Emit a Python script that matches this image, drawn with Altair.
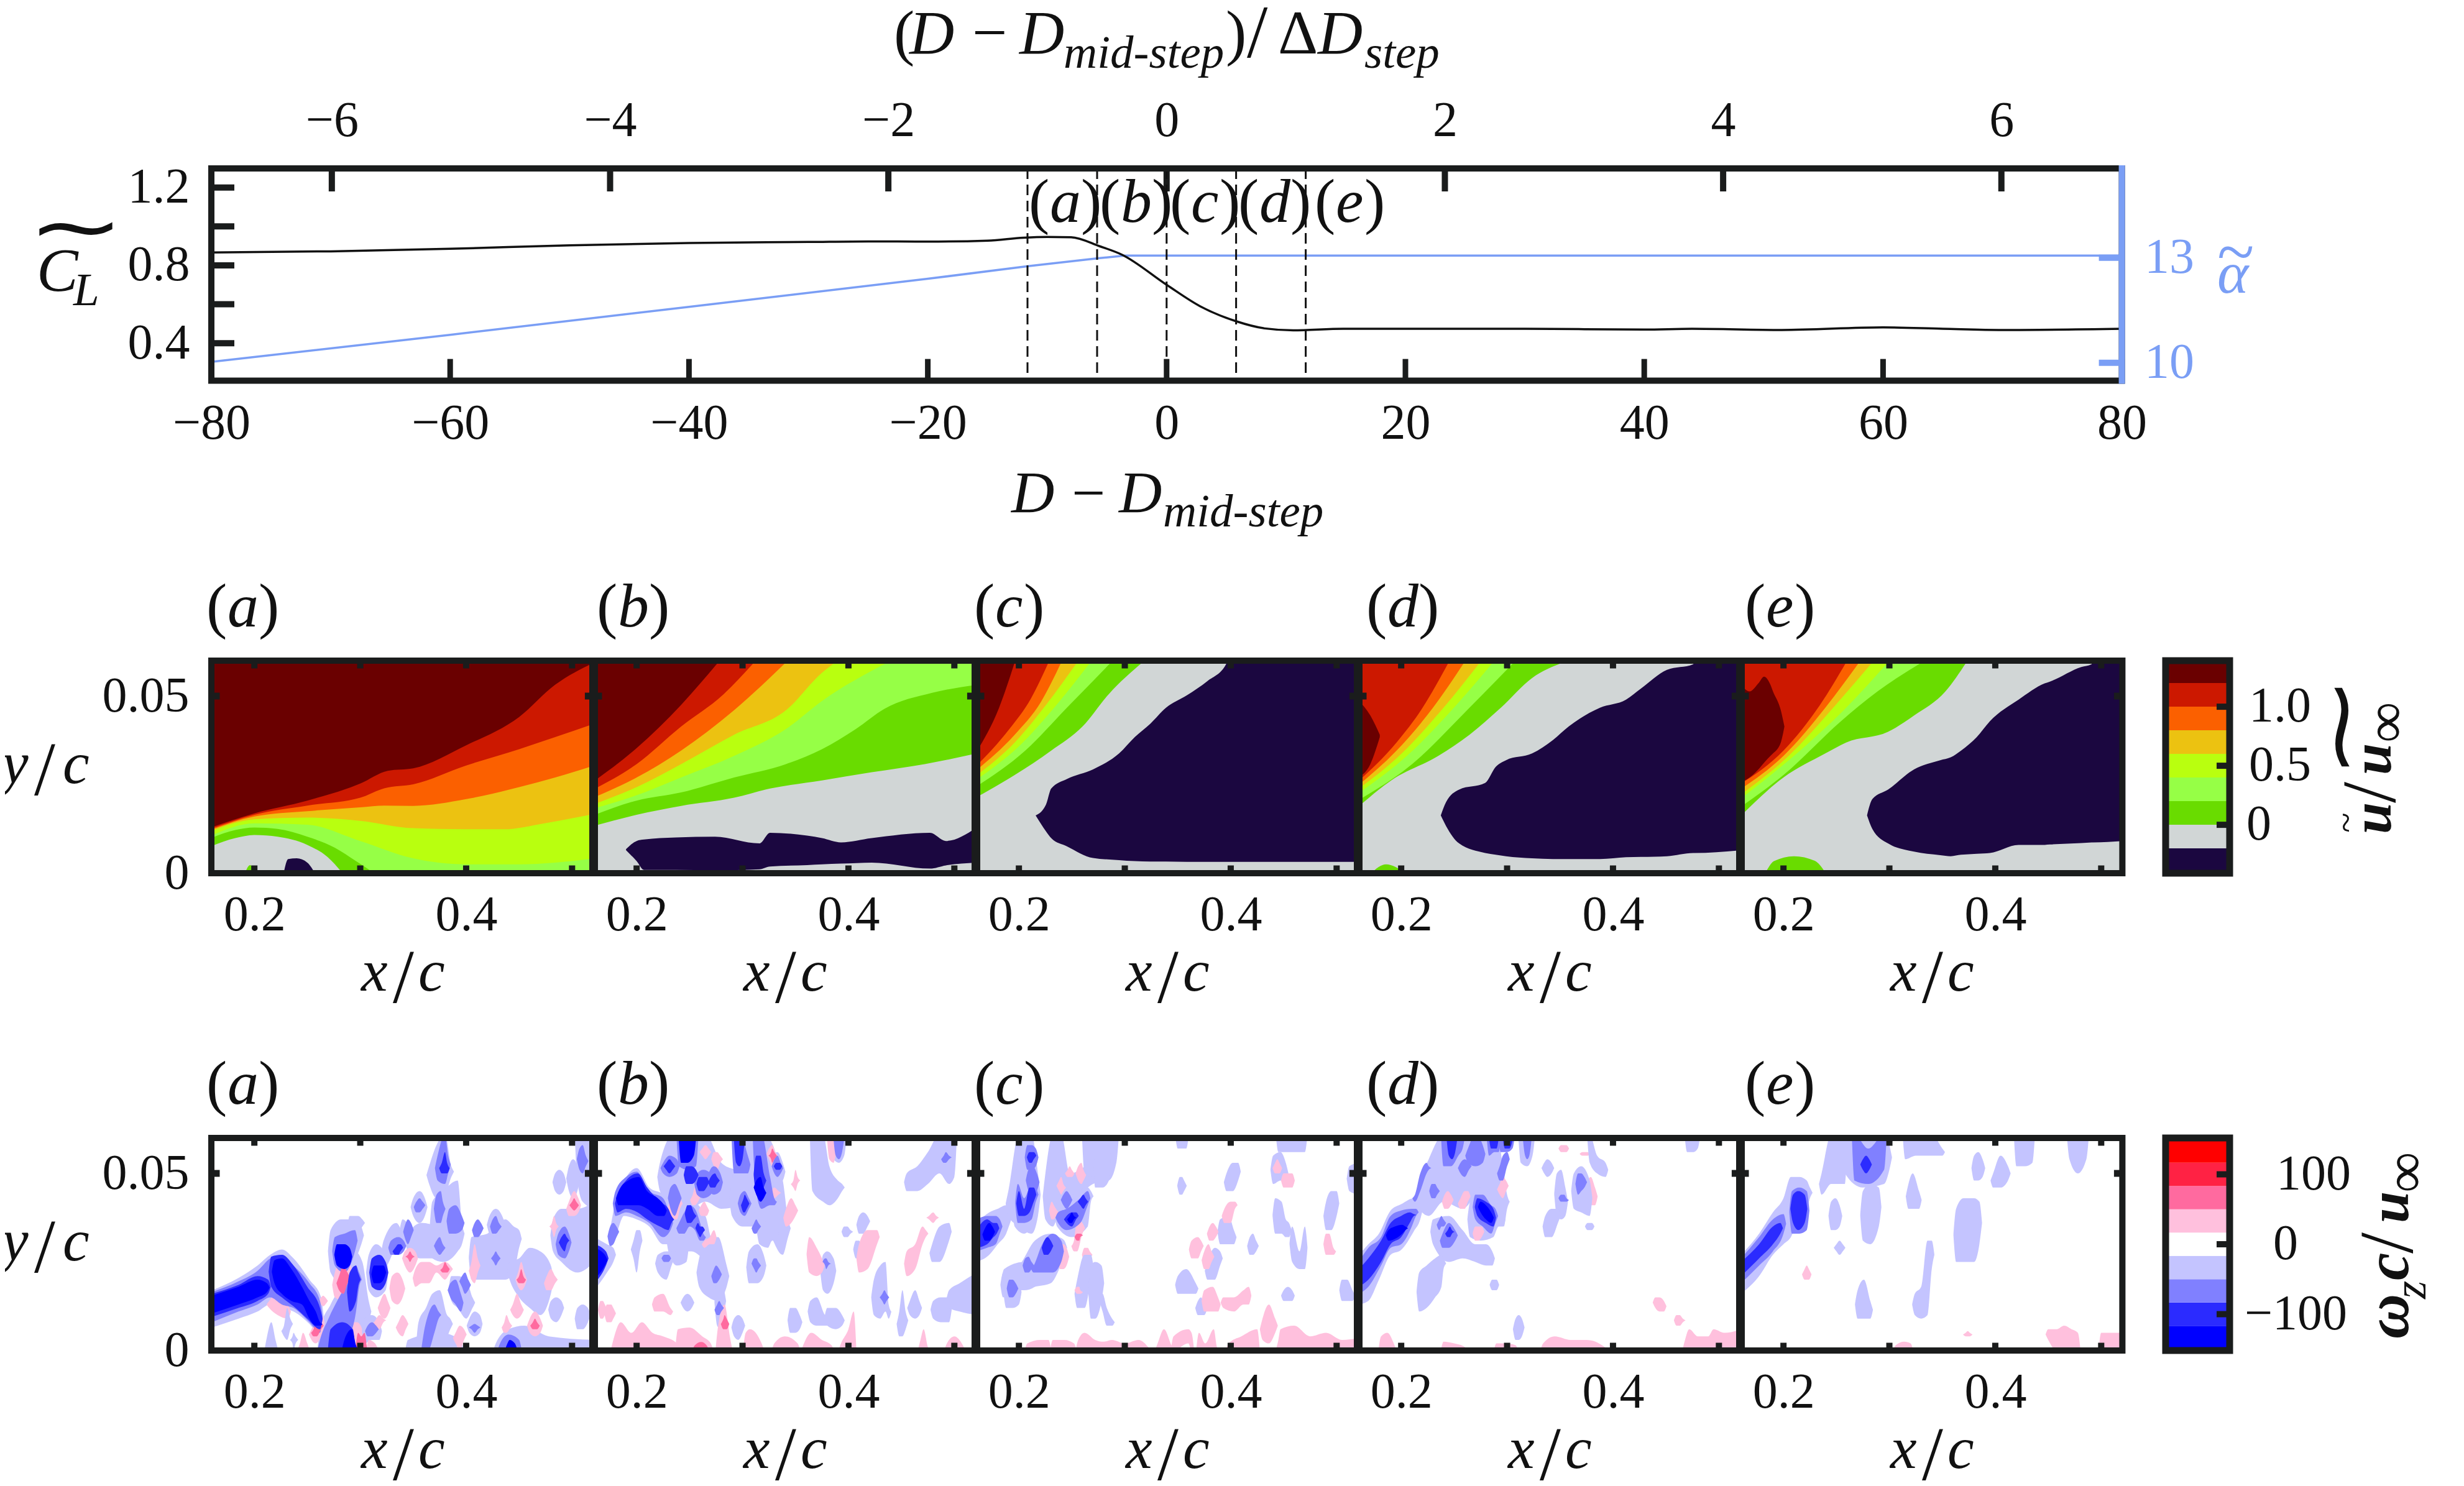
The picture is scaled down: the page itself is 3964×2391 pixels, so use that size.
import altair as alt
import pandas as pd

FONT = "Liberation Serif"
INK = "#1a1c1c"
BLUE = "#7a9ef5"

# ---------- top chart values ----------
D_BLACK = [-80,-70,-60,-50,-40,-30,-25,-20,-15,-12,-10,-8,-5.6,-3.75,0,2.8,5.8,8.2,10.6,14.8,20,30,40,44,51.5,60,65,70,80]
CL = [.866,.872,.885,.903,.915,.92,.923,.922,.927,.942,.946,.944,.898,.855,.70,.59,.513,.476,.466,.474,.474,.474,.47,.474,.468,.481,.474,.468,.474]
D_BLUE = [-80,-60,-40,-20,-11.6,-5.6,-3.5,80]
ALPHA = [10.03,10.8,11.6,12.4,12.76,12.99,13.06,13.06]
STATIONS = [-11.65,-5.82,0,5.82,11.65]
X_TICKS = [-80,-60,-40,-20,0,20,40,60,80]
TOP_TICKS = [-6,-4,-2,0,2,4,6]
CL_TICKS = [1.2,1.0,.8,.6,.4]
CL_LABELS = [1.2,.8,.4]
ALPHA_TICKS = [10,13]
PANELS = ["a","b","c","d","e"]
PANEL_LABEL_DX = [-8,5,-3,13,7]

# ---------- u contour bands: (level, x, lower, upper), x/c and y/c in 1e-3 ----------
U_LEVELS = [-.4,-.2,0,.2,.4,.6,.8,1.0,1.2,1.4]
U_COLORS = ["#1b0740","#d1d6d6","#69dc00","#96ff46","#b9ff0f","#ecc211","#fb6000","#cc1800","#6a0000"]
T = 70
U_A = [
 (3,[150,530],None,None),
 (2,[159,182,200,222,250,276,296,318],None,[9.9,12.2,12.9,12.5,10.3,7.2,3.4,-1]),
 (1,[159,182,200,222,250,269,286],None,[7.6,9.9,10.8,10.3,8,4.6,-1]),
 (2,[190,196,202],None,[-1,2.3,-1]),
 (0,[227,232,240,250,259],None,[-1,4,4.2,3,-1]),
 (4,[159,200,250,300,350,400,450,484,521],[10.6,14.1,13.7,9.1,4.2,2.5,2.5,3,4.2],T),
 (5,[159,200,250,300,350,400,435,474,521],[11.8,15.2,15.7,14.8,12.7,12.4,12.4,14.1,16.7],T),
 (6,[159,200,250,300,323,350,400,450,484,521],[12.2,16,17.5,18.6,19.1,19,20.9,24.3,27,30.4],T),
 (7,[159,200,250,300,323,350,400,450,484,521],[12.5,16.5,19.1,21.3,24,25.1,30.4,35,38.4,42.2],T),
 (8,[159,200,250,300,326,350,400,450,484,521],[12.9,16.9,20.5,25.3,28.9,29.6,36.1,44.1,53.2,59.5],T),
]
U_B = [
 (1,[150,530],None,None),
 (2,[159,200,242,292,326,375,422,472,521],[13.3,16.5,19,21.3,23.9,26.2,28.5,30.8,33.8],T),
 (3,[159,200,242,292,341,375,407,434,479,521],[16.3,20.5,22.8,27,30.8,35,40.7,46.4,50.9,53.2],T),
 (4,[159,200,242,292,341,375,437],[18.2,22,27,33.1,40.7,48.6,59.5],T),
 (5,[159,200,242,292,341,375,390],[19.4,24.3,30.8,39.1,46,56.6,60],T),
 (6,[159,200,242,292,341],[21.3,27,34.6,46,59.5],T),
 (7,[159,200,242,282,311],[23.6,30.8,41.4,50.5,59.5],T),
 (8,[159,200,242,277],[25.8,35.3,47.5,59.5],T),
 (0,[190,200,207,237,274,316,326,361,375,393,422,477,492,521],
    [6.5,3.4,.9,.9,.8,1.1,1.9,2.3,2.5,2.7,3,1.3,2.2,3],
    [6.8,9.1,9.5,10.1,10.3,8.4,11.4,10.6,9.9,8.7,9.9,11.4,9.1,12.9]),
]
U_C = [
 (1,[150,530],None,None),
 (2,[159,196,230.5,260,284.7,316.7],[21.3,27.7,34.6,41.4,50.5,59.5],T),
 (3,[159,206,245.3,287],[24.3,34.6,46.7,59.5],T),
 (4,[159,201,235.5,267.5],[26.2,36.1,47.5,59.5],T),
 (5,[159,196,225.6,255],[27.4,36.9,47.5,59.5],T),
 (6,[159,196,220.7,240],[28.9,39.1,48.3,59.5],T),
 (7,[159,191,210.8,228],[30,40.7,49,59.5],T),
 (8,[159,181.3,196],[33.8,46.7,59.5],T),
 (0,[215.8,225.6,230.5,245.3,270,294.6,309.4,324.1,338.9,358.6,378.3,395.6,397,521],
    [16.3,11.8,9.9,7.6,4.3,3.7,3.4,3.3,3.3,3.2,3.2,3.2,3.2,3.2],
    [16.3,19.4,23.9,26.6,29.3,33.8,38.4,42.2,46.7,50.2,54.3,59,62,62]),
]
U_D = [
 (1,[150,530],None,None),
 (2,[159,190.6,235,264.5,294.1,323.6,353.2],[18.6,26.2,33.1,39.1,46.7,55.1,59.5],T),
 (3,[159,210.3,264.5,306.4],[20.5,30.8,46.7,59.5],T),
 (4,[159,205.4,249.8,286.7],[22.4,33.1,46.7,59.5],T),
 (5,[159,200.5,240,274.4],[23.6,33.8,46.7,59.5],T),
 (6,[159,195.6,230,259.6],[24.7,34.6,46.7,59.5],T),
 (7,[159,195.6,220.2,244.8],[25.8,36.9,46.7,59.5],T),
 (8,[159,170.9,179.8],[27,30.8,38.4],[49,44.5,39.1]),
 (0,[237.4,242.4,254.7,279.3,289.2,299,323.6,343.3,358.1,387.7,412.3,426.3,451,475.8,477,521],
    [16.3,13.3,8.4,5.7,5.2,4.8,4.2,4,4,4,4.5,4.6,4.8,5.7,5.7,6.5],
    [16.3,20.1,23.6,25.5,30,31.9,33.8,37.6,41.4,46.7,49,52.1,57.4,59,62,62]),
 (2,[168.5,185.7,208],None,[-1,2.5,-1]),
]
U_E = [
 (1,[150,530],None,None),
 (2,[159,200,239.5,259.2,298.7,323.3,352.9,372.7],[16,27,33.8,36.9,39.9,44.5,51.3,59.5],T),
 (3,[159,200,254.3,288.8,330.7],[18.6,27.7,42.9,51.3,59.5],T),
 (4,[159,209.9,259.2,298.7],[20.9,33.1,46.7,59.5],T),
 (5,[159,204.9,249.3,283.9],[22,33.1,47.5,59.5],T),
 (6,[159,200,239.5,271.5],[23.6,33.1,46.7,59.5],T),
 (7,[159,200,234.5,259.2],[25.1,34.6,47.5,59.5],T),
 (8,[159,168,176.3,181.7,187.7,190.1,197.5,200.9],[25.5,27,29.3,31.2,33.1,33.8,36.9,41.4],[53.6,51.3,53.6,55.5,53.2,51.3,46,41.4]),
 (0,[278.9,283.9,298.7,323.3,348,357.9,367.7,382.5,394.9,422,446.7,451.6,481.2,491,492,521],
    [16.3,12.5,8.4,6.1,5.1,4.8,5.2,5.5,5.7,8,8,8.1,8.5,8.7,8.7,9.1],
    [16.3,20.9,23.6,29.3,31.9,32.7,34.6,38.4,42.9,49,53.6,54.1,58.2,59,62,62]),
 (2,[181.3,191.1,209.9,229.6,241.9],None,[-1,3.4,4.8,3.5,-1]),
]
U_BANDS = [U_A,U_B,U_C,U_D,U_E]

# ---------- vorticity patches: (level, x,lo,hi, x,lo,hi, ...), x/c and y/c in 1e-3 ----------
W_LEVELS = [-150,-116.7,-83.3,-50,-16.7,16.7,50,83.3,116.7,150]
W_COLORS = ["#0000ff","#2b2bff","#8080ff","#c4c4ff","#ffffff","#ffc0dd","#ff6a9f","#ff2244","#ff0000"]
W_HEX = {-4:"#0000ff",-3:"#2b2bff",-2:"#8080ff",-1:"#c4c4ff",1:"#ffc0dd",2:"#ff6a9f",3:"#ff2244"}
W_A = [
 (-1,160,6.5,17,185,9,20.5,203,11,24,215,13,27,226,12,28.5,237,11,26,252,7.5,20,263,4,15),
 (-2,160,8,16.5,185,11,19.5,203,13,22.5,215,15,26,226,13,27,237,12,24,252,8,19,262,5,14),
 (-3,160,9.5,16,185,12,18.5,203,14,21,213,16,20),
 (-4,160,10.5,15.5,185,13,18,203,15,20,212,16.5,19),
 (-3,216,18,26.5,226,15,27,237,12.5,24,250,9,18,262,6,12),
 (-4,219,19,25.5,226,16,26,235,14,23,245,13,18,252,9,14,258,7,11,262,7,8),
 (1,214,12,14,222,10,17,232,9,13),
 (-1,262,0,6,272,0,13,285,0,20,295,0,28,302,3,25,308,8,14),
 (-2,262,0,3,270,0,9,280,0,15,290,4,20,296,11,24,299,18,22),
 (-3,272,0,6,283,0,8,293,0,6),
 (-4,285,0,3,292,0,6,296,0,1.5),
 (-3,290,11,22,296,14,24,298,18,22),
 (-1,272,22,34,282,19,37,296,26,37,301,30,35),
 (-2,276,24,32,285,22,33,295,28,34),
 (-4,278,24,30,285,23,30,290,24,29),
 (-1,290,30,38,298,33,38,302,35,37),
 (1,276,15,22,285,14,27,292,18,23),
 (2,280,17,21,284,16,24,288,19,22),
 (1,254,3,6,258,2,9,264,5,10),
 (2,256,4,6,259,4,9,263,6,8),
 (1,243,0,2,246,0,5,250,0,2),
 (1,263,13,15,265,12.5,15.5,267,13,15),
 (-1,212,0,4,216,0,8,220,0,3),
 (-1,228,4,7,231,3,12,234,6,9),
 (-1,236,2,4,237,1,5,239,2,4),
 (1,290,0,8,297,0,8,303,0,5),
 (2,298,0,5,301,0,4,304,0,5),
 (-1,304,2,9,311,3,10,318,3,8),
 (-2,307,4,7,311,4,8,315,5,7),
 (1,313,7,8,318,6,10,322,8,9),
 (1,308,0,3,314,0,2,316,0,1),
 (-1,308,17,27,315,15,30,324,17,27),
 (-3,311,18,26,318,17,27,324,19,25),
 (-4,313,19,24,318,19,24,322,20,24),
 (-1,322,23,31,334,29,36,342,30,32),
 (-2,329,27,31,336,27,32,341,28,31),
 (-3,333,27,29,336,27,30,338,28,30),
 (-1,340,32,37,350,31,34.5,358,28,36,365,32,35),
 (-2,343,31,36,345,30,37,348,32,36),
 (-1,365,47,52,372,43,58,380,44,59,386,49,52),
 (-2,373,48,55,380,47,59,383,50,55),
 (-3,377,50,53,380,50,56,382,50,53),
 (-2,372,36,44,376,36,45,378,38,42),
 (-1,368,26,42,378,25,45,392,28,48,396,30,36),
 (-2,384,33,40,390,33,41,396,34,38),
 (-2,372,28,31,375,27,32,378,28,30),
 (-1,350,38,43,356,36,45,361,38,43),
 (-2,353,39,42,356,39,43,359,40,42),
 (-1,345,28,33,358,26,36,372,26,35,378,30,33),
 (-1,405,20,32,420,20,33,437,20,37,445,22,35,450,29,34),
 (-2,408,32,36,411,32,37,414,33,36),
 (-2,425,33,37,428,33,38,431,34,36),
 (-2,426,25,27,428,24,28,430,25,27),
 (-1,422,33,38,428,32,40,434,34,38),
 (-1,386,14,21,392,12,21,400,9,20,406,12,15),
 (-2,385,15,19,390,13,20,395,11,16),
 (-2,396,18,21,399,16,22,402,17,20),
 (-1,403,5,9,408,4,11,413,5,10),
 (-2,405,6,7,408,5,7.5,411,6,7),
 (-1,355,0,8,362,0,12,368,0,16,375,3,17,382,4,10,385,6,9),
 (-2,360,0,5,364,0,10,370,5,13,374,9,11),
 (-1,345,0,3,375,0,5,395,0,3),
 (-1,428,0,2,440,0,6,455,0,7,478,0,4,521,0,3),
 (-2,432,0,2,440,0,4.5,450,0,3),
 (-4,439,0,2,441,0,3,446,0,2),
 (-1,505,48,59,510,42,59,521,40,59),
 (-2,507,51,57,510,50,58,513,52,55),
 (-1,497,45,52,501,43,54,505,45,52),
 (-1,484,45,50,488,44,51,492,45,50),
 (-1,482,28,37,490,25,40,505,22,40,521,25,42),
 (-2,487,27,33,493,26,35,497,28,33),
 (-3,490,29,32,493,28,33,495,30,32),
 (-1,441,20,25,450,15,26,460,12,29,470,10,28,480,16,24),
 (-1,480,9,14,485,8,15,490,10,14),
 (-1,505,6,12,510,6,13,515,8,12),
 (1,497,38,42,502,38,45,506,39,43),
 (2,500,40,42,502,39.5,43,504,40,42),
 (1,481,34,36,483,32,38,485,34,36),
 (1,449,18,22,452,17,25,455,18,22),
 (2,450,19,21,452,19,23,454,19,21),
 (1,460,5,9,465,4,11,470,5,9),
 (2,463,6,8,465,6,9,467,6,8),
 (1,444,10,13,448,9,16,452,10,13),
 (1,436,5,8,438,5,10,441,6,8),
 (1,476,17,21,480,17,23,484,19,21),
 (1,405,20,25,408,19,30,411,22,26),
 (1,390,2,5,394,1,7,398,3,6),
 (1,352,18,23,358,19,25,365,19,25,372,22,24,380,20,25,385,22,24),
 (2,378,22,23.5,380,22,25,382,22,24),
 (1,342,24,28,347,22,29,352,24,28),
 (2,345,26,27,347,25,28,349,26,27),
 (1,330,14,21,335,13,22,340,15,20),
 (1,319,10,14,323,9,16,326,10,14),
 (1,336,5,8,340,4,10,343,6,9),
]
W_B = [
 (-1,160,17,32,172,22,30,178,25,29),
 (-3,160,19,30,171,24,28),
 (-4,160,20,29,170,24,27),
 (-1,176,30,36,181,33,44,188,38,48,200,37,51.5,212,35,46,225,30,44,231,30,40),
 (-2,180,38,45,190,39,49,200,38,50.5,212,36,45,225,32,43,232,34,38),
 (-3,182,39,44,190,40,48,201,39,50,210,37,46,222,35,42,230,34,40,233,36,38),
 (-4,183,41,45,192,41,48,202,41,49,210,40,45,220,38,43,226,38,41),
 (-2,175,29.5,35,178,30,36,181,32,35),
 (-1,230,28,38,238,24,40,247,25,35),
 (-1,197,26,31,200,22,34,203,28,34),
 (-1,222,45,53,235,40,59,250,40,59,265,42,59,280,40,53,300,41,50,310,42,47),
 (-2,225,50,53,231,49,55,238,50,54),
 (-3,228,51,53,231,50,54,234,51,53),
 (-2,240,52,59,248,51,59,256,52,59),
 (-4,242,53,59,248,53,59,254,55,59),
 (-3,247,47,52,252,47,52,256,48,51),
 (-2,257,44,50,263,43,51,270,44,50),
 (-3,259,45,49,263,45,49,266,46,49),
 (-2,268,45,50,273,44,52,279,45,50),
 (-3,270,46,49,274,46,50,276,47,49),
 (-1,232,35,40,238,36,43,244,38,42),
 (-2,232,40,46,236,38,47,240,41,45),
 (-1,237,28,38,252,28,42,265,26,38,270,28,32),
 (-2,240,33,36,245,33,39,250,35,41,255,34,40,260,31,36,263,31,33),
 (-3,248,36,41,251,36,41,254,37,39),
 (-3,258,33,36,260,32,35,262,33,35),
 (-1,259,18,26,268,15,32,277,14,32,285,18,24),
 (-2,273,19,23,275,19,24,278,20,23),
 (-1,276,7,20,279,6,20,282,10,18),
 (-2,276,10,13,278,10,14,280,11,13),
 (-1,244,12,15,248,11,16,252,12,15),
 (-1,220,22,27,228,20,28,233,24,28),
 (-2,226,25,27,228,25,27,230,25,27),
 (-1,290,38,48,300,35,59,320,35,59,338,27,48,343,32,37),
 (-2,292,50,59,298,50,59,305,50,55),
 (-3,294,53,59,297,52,59,300,54,59),
 (-2,312,47,59,318,40,59,326,41,49,330,41,43),
 (-3,313,44,55,317,43,55,320,46,50),
 (-4,313,44,48,317,42,49,320,43,46),
 (-1,294,37,44,302,36,46,310,38,43),
 (-2,298,39,44,302,38,45,306,40,43),
 (-3,301,39,43,302,39,44,304,40,43),
 (-2,311,33,36,313,33,37,315,34,36),
 (-1,306,19,28,314,19,30,320,21,27),
 (-2,311,23,26,313,22,26,315,23,25),
 (-1,316,30,37,324,29,36,328,31,35,332,31,35),
 (-1,325,49,53,333,47,56,338,48,53),
 (-2,330,50,54,333,49,55,336,50,53),
 (-3,332,51,53,333,51,53,335,51,53),
 (1,325,54,57,328,52,58,331,54,56),
 (2,327,54,56,328,53,57,330,54,56),
 (-1,366,45,59,376,42,59,382,41,52,390,43,48,394,45,47),
 (-1,386,54,59,391,53,59,396,55,59),
 (-2,388,55,59,391,54,59,394,56,59),
 (-1,455,45,50,465,45,52,475,47,56,486,50,59,495,47,59,500,49,59),
 (-2,490,53,55,492,53,56,495,54,55),
 (1,262,55,57,265,54,58,268,55,57),
 (1,273,52,56,276,51,56,279,53,55),
 (1,327,43,45,330,43,46,334,44,45),
 (1,341,35,40,346,36,43,350,38,41),
 (1,382,54,59,386,53,59,388,55,58),
 (1,348,46,48,350,45,51,352,47,49),
 (1,232,37,43,238,37,44,241,40,43),
 (1,253,41,44,255,41,46,258,42,45),
 (1,261,38,41,264,38,42,266,38,41),
 (1,264,29,31,269,30,32,273,30,34),
 (-1,376,17,27,380,16,28,386,19,26),
 (-2,378,24,26,379,23,26,381,24,25),
 (-1,424,10,20,430,9,24,435,11,25,438,9,13),
 (-2,432,14,16,434,13,17,436,14,16),
 (-1,448,4,11,451,4,17,454,6,11),
 (-1,458,10,14,463,9,17,467,10,14),
 (-1,480,9,14,487,8,15,495,8,15),
 (-1,495,12,17,505,11,19,521,10,22),
 (-1,396,32,35,399,32,35,402,33,34),
 (-1,410,33,38,414,33,39,418,35,38),
 (-1,407,26,31,410,26,31,412,27,30),
 (-1,479,25,30,486,25,35,495,31,36),
 (-1,364,8,14,370,7,15,378,7,10,385,7,9),
 (-1,380,7,12,388,6,12,394,7,10),
 (-1,345,5,12,350,5,12,354,6,10),
 (-1,292,4,9,296,3,10,300,5,9),
 (1,363,22,32,370,21,29,375,22,26),
 (1,410,22,30,418,23,34,427,30,34),
 (1,455,21,28,463,23,30,470,30,35,473,32,34),
 (1,476,37,38,480,36,39,483,37,38),
 (1,178,0,3,185,0,8,195,0,5,205,0,8,215,0,5,225,0,4,238,0,2),
 (1,239,0,6,250,0,6.5,262,0,4,270,0,2),
 (2,255,0,1.5,261,0,2.4,266,0,1.5),
 (1,277,0,7,283,0,13,288,0,4),
 (2,282,6,9,283,6,10,285,6,9),
 (1,303,0,5,307,0,6,318,0,2),
 (1,330,0,2,340,0,4,352,0,2),
 (1,358,0,2,365,0,5,375,0,3,384,0,1.5),
 (1,393,0,2,400,0,6,405,0,11),
 (1,468,0,3,471,0,6,475,0,1),
 (1,493,0,2,500,0,4,508,0,1.5),
 (1,217,11,15,225,11,16,232,10,12),
 (1,166,9,14,168,9,14,170,10,13),
 (1,172,8,13,176,8,13,178,9,12),
]
W_C = [
 (-1,160,25,36,172,27,39,180,30,40,188,33,41,193,37,40),
 (-2,160,28,37,170,29,38,178,30,38,182,33,37),
 (-3,160,29,34,170,30,37,176,32,36,179,33,36),
 (-4,168,31,34.5,172,31,36,175,32,35),
 (-1,190,38,45,200,35,59,212,33,59,218,38,50),
 (-1,196,35,47,205,33,59,214,37,55),
 (-2,199,36,47,205,36,43,212,37,47,216,42,46),
 (-3,200,38,45,205,38,40,210,39,46,214,42,46),
 (-2,208,51,58,212,51,58,216,52,57),
 (-3,210,53,56,212,53,56,214,54,56),
 (-2,209,45,51,213,43,52,217,45,50),
 (-1,225,37,50,232,35,59,240,40,59,248,38,50,262,45,52,270,47,59,285,48,59,292,53,59),
 (-1,272,46,59,279,46,59,285,48,59),
 (-1,262,50,59,267,49,59,270,50,59),
 (-1,236,35,42,250,32,44,265,35,46,268,42,45),
 (-2,237,36,39,245,34,40,258,36,43,265,41,45),
 (-3,245,36,38,250,35,39,254,37,39),
 (-4,248,36,38,250,36,39,252,37,38),
 (-3,258,41,43,261,40,44,263,41,43),
 (-2,242,41,44,245,40,45,248,41,44),
 (-1,185,15,22,200,17,24,215,18,31,230,19,33,238,23,32,243,27,31),
 (-2,214,22,24,222,22,30,232,22,33,240,25,31),
 (-3,224,27,31,227,27,32,230,28,31),
 (-2,206,22,26,209,22,26.5,212,23,25),
 (-2,191,15,20,194,15,20,197,16,19),
 (-1,188,12,20,194,12,21,200,13,20),
 (-1,186,17,23,205,17,25,215,18,24),
 (1,252,28,31,255,28,37,260,33,36),
 (2,255,31,33,257,31,33,258,32,33),
 (1,239,23,30,242,23,30,245,24,29),
 (1,262,25,29,265,25,29,267,26,28),
 (1,238,45,48,240,44,49,242,45,47),
 (1,246,49,51,248,49,52,250,49,51),
 (1,256,48,52,259,47,53,261,48,51),
 (1,231,37,42,233,37,41,235,38,40),
 (-1,255,12,20,262,12,27,268,20,27),
 (-1,268,9,24,272,9,25,278,14,24),
 (-1,279,11,16,283,7,12,288,7,9),
 (1,255,16,18,257,16,18,258,16,17),
 (-1,352,44,49,354,44,49,356,45,48),
 (-1,396,45,50,402,45,53,407,48,53),
 (-1,440,47,55,447,48,56,452,47,53),
 (-1,350,57,59,354,57,59,358,57,59),
 (-1,445,56,59,460,56,59,470,56,59),
 (-1,442,33,43,448,33,42,452,32,37,455,32,36),
 (-1,390,30,37,398,30,38,403,30,34),
 (-1,418,27,32,421,27,33,424,28,31),
 (-1,378,20,25,385,20,29,390,24,28),
 (-1,350,16,21,358,16,23,367,16,19),
 (-1,369,10,14,372,10,15,375,10,13),
 (-1,458,25,35,465,23,28,470,23,35),
 (-1,490,34,42,495,34,45,500,38,45),
 (-1,505,14,20,510,14,20,515,14,17),
 (-1,450,14,17,454,14,18,458,14,17),
 (-1,512,45,52,521,44,53),
 (1,394,36,40,400,36,42,404,40,42),
 (1,450,46,50,454,46,50,458,46,50),
 (1,380,31,35,383,31,36,386,32,35),
 (1,363,26,31,369,26,32,372,28,31),
 (1,375,23,28,379,23,30,382,25,28),
 (1,375,11,17,383,11,18,388,11,15),
 (1,393,12,15,403,11,15,412,13,17,417,13,18),
 (1,430,3,9,436,2,13,442,5,9),
 (1,490,27,33,493,27,33,497,27,29),
 (1,442,50,53,444,50,54,446,50,53),
 (1,208,0,2,220,0,3,228,0,3),
 (1,232,0,3,243,0,3,252,0,2),
 (1,256,0,3,262,0,5,272,0,3,280,0,2.5,288,0,3,300,0,2,313,0,3,322,0,1),
 (1,331,0,2,337,0,6,344,0,1.5),
 (1,346,0,4,360,2,6,363,0,5),
 (1,370,0,5,376,0,2,384,0,6,387,0,1),
 (1,398,0,2,410,0,4,425,0,6),
 (1,445,0,3,447,0,6,460,0,7,475,0,4,490,0,5,505,0,3,521,0,3.5),
]
W_D = [
 (-1,160,13,27,169,14,30,179,20,33,190,27,39.5,200,28.4,41.3,212,33.7,43,218,37,43),
 (-2,160,16,25,169,18,29,181,24,32,190,29,38,200,30,39.5,210,35,40,214,38,40),
 (-3,160,18,23,169,20,26,181,25,31,190,30,36,200,32,38,208,36,39,212,38,38.5),
 (-4,188,31,34,194,31.5,35,201,33,35.5,204,34,35),
 (-1,217,40,47,226,38,54,240,42,59,258,40,59,275,45,59,290,37,59,297,35,50,300,40,44),
 (-2,213,42,44,218,45,50,224,50,53,226,51,52),
 (-2,240,52,59,247,52,59,254,55,59,258,57,59),
 (-3,245,55,59,248,54,59,251,56,59),
 (-2,263,53,57,270,52,59,277,53,58),
 (-2,256,50,53,260,49,54,264,51,53),
 (-2,283,55,59,288,56,59,292,56,59),
 (-3,285,57,59,288,57,59,290,57,59),
 (-2,294,56,59,300,56,59,305,57,59),
 (-3,298,57,59,302,57,59,304,58,59),
 (-2,293,48,52,296,48,55,300,52,56),
 (-1,313,53,59,319,52,59,324,55,59),
 (-2,317,55,59,319,54,59,321,55,59),
 (-2,229,43,47,232,43,47,234,44,46),
 (-1,265,32,42,275,31,46,287,32,43,292,35,41,296,35,39),
 (-2,270,37,44,277,35,44,285,33,41,289,36,40),
 (-3,272,38,43,280,36,42,287,35,40),
 (-4,275,39,42,280,37,41,285,36,39),
 (-1,230,30,37,245,25,38,258,26,34,270,25,30,280,24,30,286,24,28),
 (-2,239,29,33,245,29,36,251,31,34),
 (-3,244,32,34,246,32,35,248,33,34),
 (-2,236,34,37,238,35,38,240,35,37),
 (-1,217,11,22,224,12,24,232,15,26,238,18,27,240,23,26),
 (1,256,40,43,260,40,45,263,42,45),
 (1,241,40,44,244,40,45,247,41,44),
 (1,270,31,35,273,31,35,276,32,35),
 (1,293,44,47,296,43,49,299,45,48),
 (1,351,56,58,354,56,58,356,56,58),
 (1,375,41,47,379,41,49,383,41,46),
 (1,440,12,15,444,11,15,448,11,14),
 (1,460,7,10,463,7,10,466,8,9),
 (1,371,55,56,374,55,56,376,55,56),
 (-1,335,50,53,338,49,54,342,50,53),
 (-1,347,38,50,351,37,51,355,38,46),
 (-1,363,40,50,370,39,52,378,38,48),
 (-2,367,44,50,370,45,50,373,46,49),
 (-2,351,42,44,354,42,44,356,42,43),
 (-1,336,32,38,342,32,40,348,36,40),
 (-1,378,53,59,385,50,55,393,49,53),
 (-1,376,34,36,378,34,36,380,34,36),
 (-1,308,3,9,311,3,10,314,4,9),
 (-1,286,17,20,288,17,20,290,17,20),
 (-1,470,56,59,476,56,59,480,57,59),
 (1,181,0,4,187,0,5,193,0,2),
 (1,240,0,2.5,250,0,2,260,0,1),
 (1,290,0,2,298,0,2,308,0,1.5),
 (1,334,0,2,345,0,4,360,0,3,375,0,3,392,0,1),
 (1,468,0,3,472,0,6,480,0,4,490,0,4,495,0,6,505,0,5,521,0,6),
]
W_E = [
 (-1,160,16,27,177,21,33,190,27,39,200,30,43,207,32,49,215,38,49,222,40,48,225,43,46),
 (-2,160,19,26,177,24,32,190,28,37,200,33,38.5),
 (-3,160,21,25,177,26,30,190,30,35,197,33,36),
 (-2,208,33,45,215,33,46,222,34,45),
 (-3,209,36,44,214,34,45,220,36,44),
 (-1,258,50,59,275,46,59,295,47,59,300,51,58),
 (-2,267,48,59,280,47,57,295,51,59),
 (-3,275,51,54,278,50,55,281,51,54),
 (-1,236,44,50,245,47,59,258,47,59),
 (-1,275,31,45,282,30,47,290,35,46),
 (-1,318,40,47,322,40,50,328,40,45),
 (-1,245,34,42,249,34,43,253,35,41),
 (-1,315,54,59,325,55,59,340,55,59,350,55,57),
 (-1,380,48,55,384,48,56,388,49,54),
 (-1,398,46,50,405,46,55,412,48,52),
 (-1,420,52,59,428,52,59,435,53,59),
 (-1,470,54,59,478,50,59,486,54,59),
 (-1,363,25,40,370,25,43,380,25,43,385,30,42),
 (-1,324,10,16,330,9,18,336,10,31,340,23,31),
 (-1,270,9,17,276,9,20,282,9,14),
 (-1,250,28,30,253,27,31,256,28,30),
 (1,220,20,23,222,20,24,224,20,23),
 (1,450,3,6,458,0,6,465,0,7,472,0,6,478,0,5),
 (1,500,0,5,507,0,5,521,0,5),
 (1,306,0,1.5,314,0,2.5,320,0,2),
 (1,372,4,5,374,4,5.5,376,4,5),
]
W_PATCHES = [W_A,W_B,W_C,W_D,W_E]

# ---------- layout ----------
PW, PH = 614.4, 342
TW, TH, TVIEW = 3073.6, 341.6, 366
GAP = 69
BARW = 103
ONE = alt.Data(values=[{"k":1}])


def txt(t, x, y, size, style="normal", weight="normal", color="#111111", angle=None, font=FONT):
    kw = dict(font=font, fontSize=size, fontStyle=style, fontWeight=weight, color=color,
              align="left", baseline="alphabetic", text=t, clip=False)
    if angle is not None:
        kw["angle"] = angle
    return alt.Chart(ONE).mark_text(**kw).encode(x=alt.value(x), y=alt.value(y))


def frame(w, h, sw=10):
    return alt.Chart(ONE).mark_rect(filled=False, stroke=INK, strokeWidth=sw, strokeCap="square").encode(
        x=alt.value(0), x2=alt.value(w), y=alt.value(0), y2=alt.value(h))


def paren_label(letter, x, y):
    w = 48 if letter in "abd" else 44
    return [txt("(", x, y, 100), txt(letter, x + 34, y, 100, style="italic"), txt(")", x + 34 + w + 2, y, 100)]


def top_chart():
    xs = alt.Scale(domain=[-80, 80], range=[0, TW], nice=False, zero=False)
    ys = alt.Scale(domain=[.207, 1.298], range=[TH, 0], nice=False, zero=False)
    ya = alt.Scale(domain=[9.49, 15.55], range=[TH, 0], nice=False, zero=False)
    xn = alt.Scale(domain=[-6.866, 6.866], range=[0, TW], nice=False, zero=False)
    black = pd.DataFrame({"D": D_BLACK, "cl": CL})
    blue = pd.DataFrame({"D": D_BLUE, "al": ALPHA})
    lab = dict(labelFont=FONT, labelFontSize=80, labelColor="#111111", domain=False, ticks=False,
               tickSize=0, grid=False, title=None, labelFlush=False, labelOverlap=False)
    layers = [
        alt.Chart(blue).mark_line(color=BLUE, strokeWidth=3.5).encode(
            x=alt.X("D:Q", scale=xs, axis=None),
            y=alt.Y("al:Q", scale=ya, axis=alt.Axis(orient="right", values=[10, 13], labelColor=BLUE,
                    labelFont=FONT, labelFontSize=80, labelPadding=36, domain=False, ticks=False,
                    tickSize=0, grid=False, title=None, offset=TW - PW))),
        alt.Chart(black).mark_line(color="#111111", strokeWidth=3.5, interpolate="monotone").encode(
            x=alt.X("D:Q", scale=xs, axis=alt.Axis(orient="bottom", values=X_TICKS, offset=-(TVIEW - TH),
                    labelPadding=30, **lab)),
            y=alt.Y("cl:Q", scale=ys, axis=alt.Axis(orient="left", values=CL_LABELS, format=".1f",
                    labelPadding=35, **lab))),
        alt.Chart(pd.DataFrame({"t": TOP_TICKS})).mark_rule(color=INK, strokeWidth=10).encode(
            x=alt.X("t:Q", scale=xn, axis=alt.Axis(orient="top", values=TOP_TICKS, labelPadding=36, **lab)),
            y=alt.value(0), y2=alt.value(37)),
        alt.Chart(pd.DataFrame({"t": STATIONS})).mark_rule(color="#111111", strokeWidth=3, strokeDash=[17, 9]).encode(
            x=alt.X("t:Q", scale=xs, axis=None), y=alt.value(0), y2=alt.value(TH)),
        alt.Chart(pd.DataFrame({"t": X_TICKS})).mark_rule(color=INK, strokeWidth=9).encode(
            x=alt.X("t:Q", scale=xs, axis=None), y=alt.value(TH - 35), y2=alt.value(TH)),
        alt.Chart(pd.DataFrame({"t": CL_TICKS})).mark_rule(color=INK, strokeWidth=10).encode(
            y=alt.Y("t:Q", scale=ys, axis=None), x=alt.value(0), x2=alt.value(37)),
        frame(TW, TH),
        alt.Chart(pd.DataFrame({"t": ALPHA_TICKS})).mark_rule(color=BLUE, strokeWidth=10).encode(
            y=alt.Y("t:Q", scale=ya, axis=None), x=alt.value(TW - 37), x2=alt.value(TW)),
        alt.Chart(ONE).mark_rule(color=BLUE, strokeWidth=10).encode(
            x=alt.value(TW), y=alt.value(-5), y2=alt.value(TH + 5)),
    ]
    # label text positions relative to the plot's top-left corner
    ox, oy = 340, 269.4
    for letter, px in zip(PANELS, [1655, 1769, 1882, 1992, 2115]):
        layers += paren_label(letter, px - ox, 355 - oy)
    pieces = [
        ("(", 1438, 84, 100, "normal"), ("D", 1463, 84, 100, "italic"), ("\u2212", 1564, 84, 100, "normal"),
        ("D", 1640, 84, 100, "italic"), ("mid-step", 1711, 107, 75, "italic"), (")", 1972, 84, 100, "normal"),
        ("/", 2006, 90, 120, "normal"), ("\u0394", 2056, 84, 100, "normal"), ("D", 2120, 84, 100, "italic"),
        ("step", 2195, 107, 75, "italic"),
        ("D", 1627, 823, 96, "italic"), ("\u2212", 1724, 823, 96, "normal"), ("D", 1800, 823, 96, "italic"),
        ("mid-step", 1871, 845, 75, "italic"),
        ("C", 59, 466, 100, "italic"), ("L", 118, 489, 75, "italic"),
    ]
    for t, x, y, s, st in pieces:
        layers.append(txt(t, x - ox, y - oy, s, style=st))
    layers.append(txt("\u2053", 57 - ox, 407 - oy, 130, font="DejaVu Sans"))
    layers.append(txt("\u03b1", 3567 - ox, 469 - oy, 96, style="italic", color=BLUE))
    layers.append(txt("~", 3567 - ox, 440 - oy, 110, color=BLUE))
    return alt.layer(*layers).resolve_scale(x="independent", y="independent").properties(width=PW, height=TVIEW)


def panel(i, shapes, first):
    letter = PANELS[i]
    xs = alt.Scale(domain=[.1594, .52], nice=False, zero=False)
    ys = alt.Scale(domain=[0, .06], nice=False, zero=False)
    yaxis = alt.Axis(orient="left", values=[0, .05], labelExpr="datum.value == 0 ? '0' : '0.05'", labelFont=FONT,
                     labelFontSize=80, labelColor="#111111", labelPadding=36, domain=False, ticks=False,
                     tickSize=0, grid=False, title=None, labelFlush=False, labelOverlap=False) if first else None
    xaxis = alt.Axis(orient="bottom", values=[.2, .4], format=".1f", labelFont=FONT, labelFontSize=80,
                     labelColor="#111111", labelPadding=28, domain=False, ticks=False, tickSize=0,
                     grid=False, title=None, labelFlush=False, labelOverlap=False)
    area = alt.Chart(pd.DataFrame(shapes)).mark_area(clip=True, interpolate="monotone").encode(
        x=alt.X("x:Q", scale=xs, axis=xaxis),
        y=alt.Y("lo:Q", scale=ys, axis=yaxis, stack=None),
        y2="hi:Q",
        color=alt.Color("c:N", scale=None),
        detail="id:Q",
    )
    ticks = pd.DataFrame({"t": [.2, .3, .4, .5]})
    layers = [
        area,
        alt.Chart(ticks).mark_rule(color=INK, strokeWidth=10).encode(
            x=alt.X("t:Q", scale=xs, axis=xaxis), y=alt.value(0), y2=alt.value(12.5)),
        alt.Chart(ticks).mark_rule(color=INK, strokeWidth=10).encode(
            x=alt.X("t:Q", scale=xs, axis=xaxis), y=alt.value(PH - 12.5), y2=alt.value(PH)),
        alt.Chart(pd.DataFrame({"t": [.05]})).mark_rule(color=INK, strokeWidth=11).encode(
            y=alt.Y("t:Q", scale=ys, axis=yaxis), x=alt.value(0), x2=alt.value(13.5)),
        alt.Chart(pd.DataFrame({"t": [.05]})).mark_rule(color=INK, strokeWidth=11).encode(
            y=alt.Y("t:Q", scale=ys, axis=yaxis), x=alt.value(PW - 13.5), x2=alt.value(PW)),
        frame(PW, PH),
    ]
    if not first:
        layers.append(alt.Chart(ONE).mark_rule(color=INK, strokeWidth=14).encode(
            x=alt.value(0), y=alt.value(0), y2=alt.value(PH)))
    layers += paren_label(letter, PANEL_LABEL_DX[i], -55)
    layers += [txt("x", 241, 531, 96, style="italic"), txt("/", 292, 550, 122), txt("c", 333, 531, 96, style="italic")]
    if first:
        layers += [txt("y", 3 - 340, 197, 96, style="italic"), txt("/", 55 - 340, 216, 122),
                   txt("c", 101 - 340, 197, 96, style="italic")]
    return alt.layer(*layers).properties(width=PW, height=PH)


def u_table(bands):
    rows = []
    for k, (lev, xs, lo, hi) in enumerate(bands):
        for j, x in enumerate(xs):
            l = -5 if lo is None else (lo[j] if isinstance(lo, list) else lo)
            h = T if hi is None else (hi[j] if isinstance(hi, list) else hi)
            rows.append({"id": k, "c": U_COLORS[lev], "x": x / 1000, "lo": l / 1000, "hi": h / 1000})
    return rows


def close_tip(x, l, h):
    # a patch narrows to a point just beyond its last read station, unless it runs into the frame
    y = l if l == 0 else (h if h >= 61 else (l + h) / 2)
    return (x, y, y)


def w_table(patches):
    rows = []
    ordered = sorted(patches, key=lambda p: abs(p[0]))
    for k, p in enumerate(ordered):
        vals = p[1:]
        pts = []
        for j in range(0, len(vals), 3):
            x, l, h = vals[j], vals[j + 1], vals[j + 2]
            l = 0 if l <= 1 else l
            h = 61 if h >= 59 else h
            pts.append((x, l, h))
        if pts[0][0] > 160:
            pts.insert(0, close_tip(pts[0][0] - 2.5, pts[0][1], pts[0][2]))
        if pts[-1][0] < 521:
            pts.append(close_tip(pts[-1][0] + 2.5, pts[-1][1], pts[-1][2]))
        for x, l, h in pts:
            rows.append({"id": k, "c": W_HEX[p[0]], "x": x / 1000, "lo": l / 1000, "hi": h / 1000})
    return rows


def colorbar(levels, colors, label_values, label_text, label_x, dom, pieces):
    lo = levels[:-1]
    hi = levels[1:]
    bands = pd.DataFrame({"lo": lo, "hi": hi, "c": colors})
    ys = alt.Scale(domain=dom, nice=False, zero=False)
    layers = [
        alt.Chart(bands).mark_rect().encode(
            x=alt.value(0), x2=alt.value(BARW),
            y=alt.Y("lo:Q", scale=ys, axis=None), y2="hi:Q",
            fill=alt.Fill("c:N", scale=None)),
        alt.Chart(pd.DataFrame({"t": label_values})).mark_rule(color=INK, strokeWidth=10).encode(
            y=alt.Y("t:Q", scale=ys, axis=None), x=alt.value(BARW - 21), x2=alt.value(BARW)),
        frame(BARW, PH, 11),
    ]
    for v, t, x in zip(label_values, label_text, label_x):
        layers.append(alt.Chart(pd.DataFrame({"v": [v]})).mark_text(
            font=FONT, fontSize=80, color="#111111", align="left", baseline="middle", text=t).encode(
            x=alt.value(x), y=alt.Y("v:Q", scale=ys, axis=None)))
    layers += pieces
    return alt.layer(*layers).properties(width=BARW, height=PH)


def blank(w, h):
    return alt.Chart(ONE).mark_point(opacity=0).encode(x=alt.value(0), y=alt.value(0)).properties(width=w, height=h)


u_panels = [panel(i, u_table(U_BANDS[i]), i == 0) for i in range(5)]
w_panels = [panel(i, w_table(W_PATCHES[i]), i == 0) for i in range(5)]

bx, by = 3481, 1061
u_pieces = [
    txt("u", 3843 - bx, 1340 - by, 92, style="italic", weight="bold", angle=270),
    txt("/", 3850 - bx, 1290 - by, 122, angle=270),
    txt("u", 3843 - bx, 1245 - by, 92, style="italic", weight="bold", angle=270),
    txt("\u221e", 3866 - bx, 1193 - by, 92, angle=270),
    txt("~", 3791 - bx, 1338 - by, 60, angle=270),
    txt("\u2053", 3809 - bx, 1238 - by, 140, angle=270, font="DejaVu Sans"),
]
by2 = 1829
w_pieces = [
    txt("\u03c9", 3871 - bx, 2152 - by2, 100, style="italic", weight="bold", angle=270),
    txt("z", 3899 - bx, 2088 - by2, 75, style="italic", angle=270),
    txt("c", 3871 - bx, 2058 - by2, 100, style="italic", weight="bold", angle=270),
    txt("/", 3878 - bx, 2015 - by2, 122, angle=270),
    txt("u", 3871 - bx, 1966 - by2, 92, style="italic", weight="bold", angle=270),
    txt("\u221e", 3897 - bx, 1917 - by2, 92, angle=270),
]

u_bar = colorbar(U_LEVELS, U_COLORS, [0, .5, 1.0], ["0", "0.5", "1.0"],
                 [3611 - bx, 3615 - bx, 3615 - bx], [-.41, 1.39], u_pieces)
w_bar = colorbar(W_LEVELS, W_COLORS, [-100, 0, 100], ["\u2212100", "0", "100"],
                 [3608 - bx, 3654 - bx, 3659 - bx], [-152, 152], w_pieces)

charts = [top_chart()] + [blank(1, TVIEW) for _ in range(6)]
charts += u_panels + [blank(GAP, PH), u_bar]
charts += w_panels + [blank(GAP, PH), w_bar]

chart = alt.concat(*charts, columns=7, bounds="flush", align="each", spacing={"row": 426, "column": 0}).properties(
    padding={"left": -5, "top": -13, "right": 5, "bottom": 5}
).configure_view(stroke=None)

chart.save("out.html", embed_options={"renderer": "svg", "actions": False})
